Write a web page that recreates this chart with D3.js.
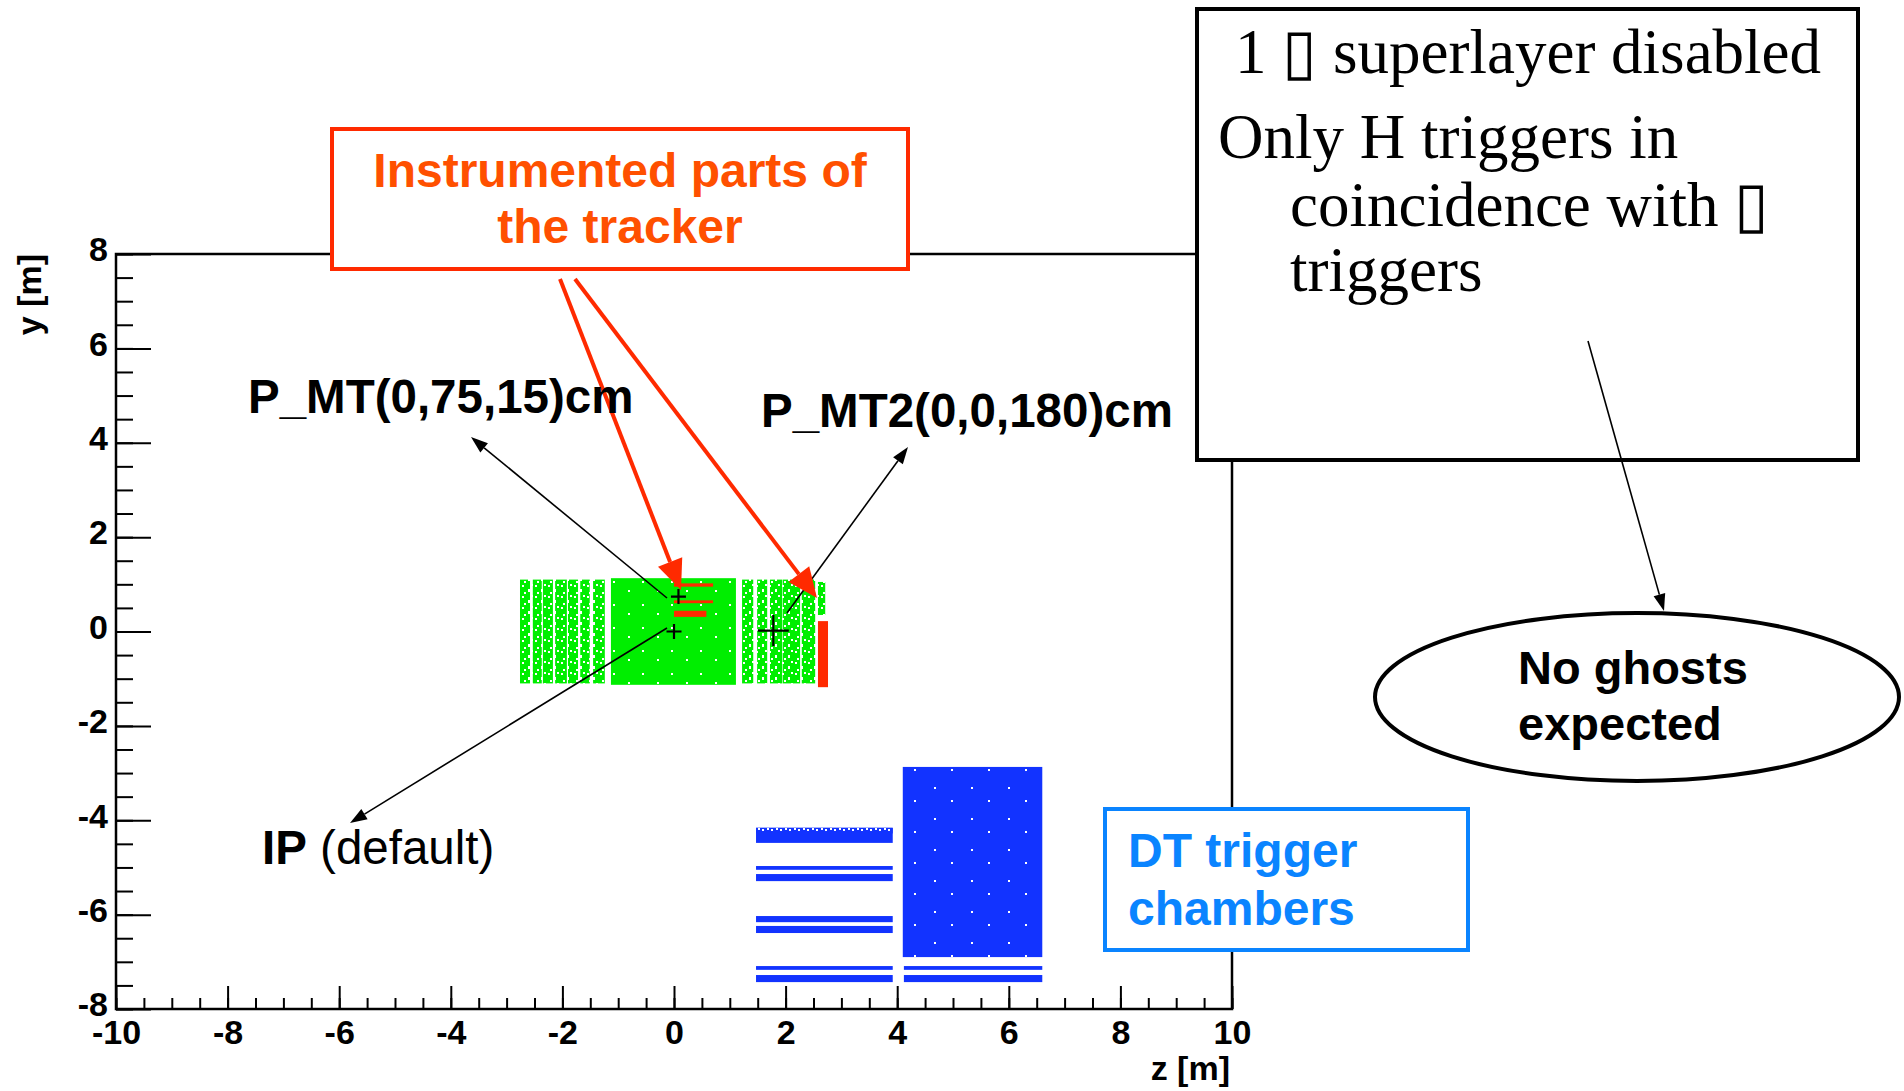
<!DOCTYPE html>
<html>
<head>
<meta charset="utf-8">
<script src="https://cdn.jsdelivr.net/npm/d3@7"></script>
<style>
  body { margin:0; background:#fff; }
  svg { display:block; }
  .tick text { font-family:"Liberation Sans", Arial, sans-serif; font-weight:bold; font-size:34px; fill:#000; }
  .tick line { stroke:#000; stroke-width:2; }
  .sans { font-family:"Liberation Sans", Arial, sans-serif; }
  .serif { font-family:"Liberation Serif", "Times New Roman", serif; }
</style>
</head>
<body>
<svg id="viz-container" width="1904" height="1091"></svg>
<script>

// axis ticks
var zTicks = [-10, -8, -6, -4, -2, 0, 2, 4, 6, 8, 10];
var yTicks = [-8, -6, -4, -2, 0, 2, 4, 6, 8];

// tracker hits (green): [z0, z1, y0, y1] in m
var trackerBarrel = [[-1.13, 1.11, -1.13, 1.13]];
var trackerMinusDisks = [[-2.76, -2.58], [-2.53, -2.37], [-2.35, -2.17], [-2.13, -1.92],
                         [-1.90, -1.72], [-1.68, -1.51], [-1.45, -1.24]];
var trackerPlusDisks = [[1.22, 1.42], [1.49, 1.67], [1.72, 1.94], [1.95, 2.26], [2.29, 2.53]];
var trackerDiskY = [-1.1, 1.1];
var trackerExtra = [[2.58, 2.71, 0.35, 1.05]];

// instrumented parts (red): [z0, z1, y0, y1]
var instrumented = [[0, 0.70, 0.95, 1.02], [0, 0.70, 0.60, 0.66], [0, 0.58, 0.31, 0.44], [2.58, 2.76, -1.18, 0.22]];

// DT trigger chamber hits (blue): [z0, z1, y0, y1]
var dtBlock = [[4.10, 6.60, -6.90, -2.87]];
var dtStrips = [[1.47, 3.92, -4.48, -4.16], [1.47, 3.92, -5.05, -4.97], [1.47, 3.92, -5.29, -5.14],
                [1.47, 3.92, -6.16, -6.03], [1.47, 3.92, -6.39, -6.24], [1.47, 3.92, -7.17, -7.09],
                [1.47, 3.92, -7.43, -7.28], [4.12, 6.60, -7.17, -7.09], [4.12, 6.60, -7.43, -7.28]];

// reference points: name, z, y (m)
var refNames = ["IP", "P_MT", "P_MT2"];
var refZ = [0, 0.08, 1.78];
var refY = [0, 0.74, 0.02];

var svg = d3.select("#viz-container");
var x = d3.scaleLinear().domain([-10, 10]).range([116, 1232]);
var y = d3.scaleLinear().domain([-8, 8]).range([1009, 254]);

var GREEN = "#00ee00", BLUE = "#1233ff", RED = "#ff2a00";

// speckle textures
var defs = svg.append("defs");
function speckle(id, color, w, h, dots) {
  var p = defs.append("pattern").attr("id", id).attr("patternUnits", "userSpaceOnUse")
      .attr("width", w).attr("height", h);
  p.append("rect").attr("width", w).attr("height", h).attr("fill", color);
  dots.forEach(function(d) {
    p.append("rect").attr("x", d[0]).attr("y", d[1]).attr("width", d[2] || 2).attr("height", d[3] || 2).attr("fill", "#fff");
  });
}
speckle("gDense", GREEN, 29, 23, [[4, 6], [19, 15]]);
speckle("gSparse", GREEN, 13, 11, [[2, 2], [8, 6, 2, 3], [4, 9], [11, 1]]);
speckle("bDense", BLUE, 37, 31, [[9, 12], [26, 25]]);
speckle("bTop", BLUE, 9, 6, [[2, 0], [6, 1, 2, 2]]);

function box(d) {
  return { x: x(d[0]), y: y(d[3]), w: x(d[1]) - x(d[0]), h: y(d[2]) - y(d[3]) };
}
function drawRects(data, fill, cls) {
  svg.append("g").attr("class", cls).selectAll("rect").data(data).enter().append("rect")
    .attr("x", function(d) { return box(d).x; })
    .attr("y", function(d) { return box(d).y; })
    .attr("width", function(d) { return box(d).w; })
    .attr("height", function(d) { return box(d).h; })
    .attr("fill", fill);
}

// frame + axes (ROOT style: ticks inside, plain hyphen minus)
var fmt = function(d) { return String(d); };
var axG = svg.append("g");
axG.append("g").attr("transform", "translate(0,1009)")
  .call(d3.axisBottom(x).tickValues(d3.range(-10, 10.01, 0.5)).tickSize(-11).tickFormat(""));
axG.append("g").attr("transform", "translate(0,1009)")
  .call(d3.axisBottom(x).tickValues(zTicks).tickSize(-23).tickPadding(11).tickFormat(fmt));
axG.append("g").attr("transform", "translate(116,0)")
  .call(d3.axisLeft(y).tickValues(d3.range(-8, 8.01, 0.5)).tickSize(-17).tickFormat(""));
var yAx = axG.append("g").attr("transform", "translate(116,0)")
  .call(d3.axisLeft(y).tickValues(yTicks).tickSize(-35).tickPadding(8).tickFormat(fmt));
yAx.selectAll(".tick text").attr("dy", "0.2em");
axG.selectAll(".domain").remove();
axG.append("rect").attr("x", 116).attr("y", 254).attr("width", 1116).attr("height", 755)
  .attr("fill", "none").attr("stroke", "#000").attr("stroke-width", 2.5);

svg.append("text").attr("class", "sans").attr("transform", "translate(41,254) rotate(-90)")
  .attr("text-anchor", "end").attr("font-weight", "bold").attr("font-size", 34).text("y [m]");
svg.append("text").attr("class", "sans").attr("x", 1230).attr("y", 1080)
  .attr("text-anchor", "end").attr("font-weight", "bold").attr("font-size", 34).text("z [m]");

// hits
drawRects(trackerBarrel, "url(#gDense)", "tracker");
drawRects(trackerMinusDisks.map(function(d) { return [d[0], d[1], trackerDiskY[0], trackerDiskY[1]]; }), "url(#gSparse)", "tracker");
drawRects(trackerPlusDisks.map(function(d) { return [d[0], d[1], trackerDiskY[0], trackerDiskY[1]]; }), "url(#gSparse)", "tracker");
drawRects(trackerExtra, "url(#gSparse)", "tracker");
drawRects(instrumented, RED, "instrumented");
drawRects(dtBlock, "url(#bDense)", "dt");
drawRects(dtStrips, BLUE, "dt");
drawRects(dtStrips.slice(0, 1).map(function(d) { return [d[0], d[1], d[3] - 0.12, d[3]]; }), "url(#bTop)", "dt");

// reference crosses
var crossSize = [15, 15, 31];
svg.append("g").selectAll("path").data(refNames).enter().append("path")
  .attr("d", function(d, i) {
    var cx = x(refZ[i]), cy = y(refY[i]), s = crossSize[i] / 2;
    return "M" + (cx - s) + "," + cy + "H" + (cx + s) + "M" + cx + "," + (cy - s) + "V" + (cy + s);
  })
  .attr("stroke", "#000").attr("stroke-width", 2.2).attr("fill", "none");

// arrows
function arrow(x0, y0, x1, y1, color, width, headLen, headW) {
  var a = Math.atan2(y1 - y0, x1 - x0);
  var bx = x1 - headLen * Math.cos(a), by = y1 - headLen * Math.sin(a);
  svg.append("line").attr("x1", x0).attr("y1", y0).attr("x2", bx).attr("y2", by)
    .attr("stroke", color).attr("stroke-width", width);
  var nx = -Math.sin(a) * headW / 2, ny = Math.cos(a) * headW / 2;
  svg.append("path").attr("d", "M" + x1 + "," + y1 + "L" + (bx + nx) + "," + (by + ny) + "L" + (bx - nx) + "," + (by - ny) + "Z")
    .attr("fill", color);
}
arrow(667, 598, 471, 437, "#000", 1.6, 17, 12);
arrow(667, 628, 350, 823, "#000", 1.6, 17, 12);
arrow(787, 613, 908, 447, "#000", 1.6, 17, 12);
arrow(560, 279, 681, 590, RED, 4, 30, 26);
arrow(575, 279, 817, 598, RED, 4, 30, 26);

// labels
svg.append("text").attr("class", "sans").attr("x", 248).attr("y", 413)
  .attr("font-weight", "bold").attr("font-size", 47.5).text("P_MT(0,75,15)cm");
svg.append("text").attr("class", "sans").attr("x", 761).attr("y", 427)
  .attr("font-weight", "bold").attr("font-size", 47.5).text("P_MT2(0,0,180)cm");
var ip = svg.append("text").attr("class", "sans").attr("x", 262).attr("y", 864).attr("font-size", 47.5);
ip.append("tspan").attr("font-weight", "bold").text("IP");
ip.append("tspan").text(" (default)");

// "Instrumented parts" box
svg.append("rect").attr("x", 332).attr("y", 129).attr("width", 576).attr("height", 140)
  .attr("fill", "#fff").attr("stroke", RED).attr("stroke-width", 4);
svg.append("text").attr("class", "sans").attr("x", 620).attr("y", 187).attr("text-anchor", "middle")
  .attr("font-weight", "bold").attr("font-size", 48).attr("fill", "#ff5000").text("Instrumented parts of");
svg.append("text").attr("class", "sans").attr("x", 620).attr("y", 243).attr("text-anchor", "middle")
  .attr("font-weight", "bold").attr("font-size", 48).attr("fill", "#ff5000").text("the tracker");

// DT box
svg.append("rect").attr("x", 1105).attr("y", 809).attr("width", 363).attr("height", 141)
  .attr("fill", "#fff").attr("stroke", "#0a84ff").attr("stroke-width", 4);
svg.append("text").attr("class", "sans").attr("x", 1128).attr("y", 867)
  .attr("font-weight", "bold").attr("font-size", 48).attr("fill", "#0a84ff").text("DT trigger");
svg.append("text").attr("class", "sans").attr("x", 1128).attr("y", 925)
  .attr("font-weight", "bold").attr("font-size", 48).attr("fill", "#0a84ff").text("chambers");

// top-right note
svg.append("rect").attr("x", 1197).attr("y", 9).attr("width", 661).attr("height", 451)
  .attr("fill", "#fff").attr("stroke", "#000").attr("stroke-width", 4);
var noteLines = [["1 \u25AF superlayer disabled", 1235, 73], ["Only H triggers in", 1218, 158],
                 ["coincidence with \u25AF", 1290, 226], ["triggers", 1290, 291]];
svg.append("g").selectAll("text").data(noteLines).enter().append("text")
  .attr("class", "serif").attr("x", function(d) { return d[1]; }).attr("y", function(d) { return d[2]; })
  .attr("font-size", 63).text(function(d) { return d[0]; });
arrow(1588, 341, 1664, 611, "#000", 1.6, 17, 12);

// ellipse
svg.append("ellipse").attr("cx", 1637).attr("cy", 697).attr("rx", 262).attr("ry", 84)
  .attr("fill", "#fff").attr("stroke", "#000").attr("stroke-width", 4);
svg.append("text").attr("class", "sans").attr("x", 1518).attr("y", 684)
  .attr("font-weight", "bold").attr("font-size", 47).text("No ghosts");
svg.append("text").attr("class", "sans").attr("x", 1518).attr("y", 740)
  .attr("font-weight", "bold").attr("font-size", 47).text("expected");

</script>
</body>
</html>
